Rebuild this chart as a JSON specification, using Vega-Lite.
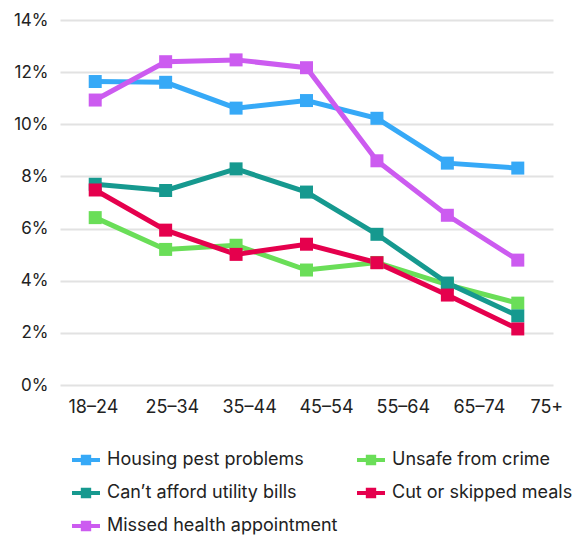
{
  "$schema": "https://vega.github.io/schema/vega-lite/v6.json",
  "width": 493,
  "height": 365,
  "autosize": "none",
  "padding": {"left": 60, "top": 20, "right": 27, "bottom": 151},
  "background": "white",
  "config": {
    "font": "Inter",
    "view": {"stroke": null}
  },
  "data": {
    "values": [
      {"series": "Housing pest problems", "age": "18–24", "idx": 0, "pct": 11.64},
      {"series": "Housing pest problems", "age": "25–34", "idx": 1, "pct": 11.61},
      {"series": "Housing pest problems", "age": "35–44", "idx": 2, "pct": 10.62},
      {"series": "Housing pest problems", "age": "45–54", "idx": 3, "pct": 10.91},
      {"series": "Housing pest problems", "age": "55–64", "idx": 4, "pct": 10.23},
      {"series": "Housing pest problems", "age": "65–74", "idx": 5, "pct": 8.51},
      {"series": "Housing pest problems", "age": "75+", "idx": 6, "pct": 8.32},
      {"series": "Unsafe from crime", "age": "18–24", "idx": 0, "pct": 6.42},
      {"series": "Unsafe from crime", "age": "25–34", "idx": 1, "pct": 5.2},
      {"series": "Unsafe from crime", "age": "35–44", "idx": 2, "pct": 5.36},
      {"series": "Unsafe from crime", "age": "45–54", "idx": 3, "pct": 4.41},
      {"series": "Unsafe from crime", "age": "55–64", "idx": 4, "pct": 4.7},
      {"series": "Unsafe from crime", "age": "65–74", "idx": 5, "pct": 3.85},
      {"series": "Unsafe from crime", "age": "75+", "idx": 6, "pct": 3.14},
      {"series": "Can’t afford utility bills", "age": "18–24", "idx": 0, "pct": 7.7},
      {"series": "Can’t afford utility bills", "age": "25–34", "idx": 1, "pct": 7.46},
      {"series": "Can’t afford utility bills", "age": "35–44", "idx": 2, "pct": 8.29},
      {"series": "Can’t afford utility bills", "age": "45–54", "idx": 3, "pct": 7.4},
      {"series": "Can’t afford utility bills", "age": "55–64", "idx": 4, "pct": 5.78},
      {"series": "Can’t afford utility bills", "age": "65–74", "idx": 5, "pct": 3.91},
      {"series": "Can’t afford utility bills", "age": "75+", "idx": 6, "pct": 2.65},
      {"series": "Cut or skipped meals", "age": "18–24", "idx": 0, "pct": 7.48},
      {"series": "Cut or skipped meals", "age": "25–34", "idx": 1, "pct": 5.94},
      {"series": "Cut or skipped meals", "age": "35–44", "idx": 2, "pct": 5.01},
      {"series": "Cut or skipped meals", "age": "45–54", "idx": 3, "pct": 5.4},
      {"series": "Cut or skipped meals", "age": "55–64", "idx": 4, "pct": 4.69},
      {"series": "Cut or skipped meals", "age": "65–74", "idx": 5, "pct": 3.45},
      {"series": "Cut or skipped meals", "age": "75+", "idx": 6, "pct": 2.15},
      {"series": "Missed health appointment", "age": "18–24", "idx": 0, "pct": 10.93},
      {"series": "Missed health appointment", "age": "25–34", "idx": 1, "pct": 12.4},
      {"series": "Missed health appointment", "age": "35–44", "idx": 2, "pct": 12.47},
      {"series": "Missed health appointment", "age": "45–54", "idx": 3, "pct": 12.17},
      {"series": "Missed health appointment", "age": "55–64", "idx": 4, "pct": 8.6},
      {"series": "Missed health appointment", "age": "65–74", "idx": 5, "pct": 6.51},
      {"series": "Missed health appointment", "age": "75+", "idx": 6, "pct": 4.79}
    ]
  },
  "mark": {
    "type": "line",
    "strokeWidth": 5,
    "point": {"shape": "square", "size": 169, "filled": true, "opacity": 1}
  },
  "encoding": {
    "x": {
      "field": "idx",
      "type": "quantitative",
      "scale": {"domain": [-0.5, 6.5], "nice": false, "zero": false},
      "axis": {
        "title": null,
        "grid": false,
        "domain": false,
        "ticks": false,
        "values": [-0.386, 0.707, 1.8, 2.893, 3.986, 5.079, 6.172],
        "labelExpr": "['18–24','25–34','35–44','45–54','55–64','65–74','75+'][round((datum.value + 0.386) / 1.093)]",
        "labelAlign": "left",
        "labelFontSize": 18,
        "labelColor": "#222222",
        "labelPadding": 13,
        "labelFlush": false,
        "labelOverlap": false
      }
    },
    "y": {
      "field": "pct",
      "type": "quantitative",
      "scale": {"domain": [0, 14], "nice": false},
      "axis": {
        "title": null,
        "values": [0, 2, 4, 6, 8, 10, 12, 14],
        "labelExpr": "datum.value + '%'",
        "labelFontSize": 17,
        "labelColor": "#222222",
        "labelPadding": 12,
        "domain": false,
        "ticks": false,
        "gridColor": "#e2e2e2",
        "gridWidth": 2
      }
    },
    "color": {
      "field": "series",
      "type": "nominal",
      "scale": {
        "domain": ["Housing pest problems", "Can’t afford utility bills", "Missed health appointment", "Unsafe from crime", "Cut or skipped meals"],
        "range": ["#36a9f7", "#16998f", "#cc5bf0", "#6ade58", "#e5004d"]
      },
      "legend": {
        "title": null,
        "orient": "none",
        "legendX": 12,
        "legendY": 426,
        "columns": 2,
        "columnPadding": 19,
        "rowPadding": 10,
        "padding": 0,
        "symbolType": "M-1,-0.14L1,-0.14L1,0.14L-1,0.14Z M-0.37,-0.37L0.37,-0.37L0.37,0.37L-0.37,0.37Z",
        "symbolSize": 784,
        "symbolStrokeWidth": 0,
        "labelFontSize": 18,
        "labelColor": "#222222",
        "labelOffset": 7,
        "labelLimit": 300,
        "encode": {
          "symbols": {"update": {"fill": {"scale": "color", "field": "value"}, "opacity": {"value": 1}}}
        }
      }
    }
  }
}
